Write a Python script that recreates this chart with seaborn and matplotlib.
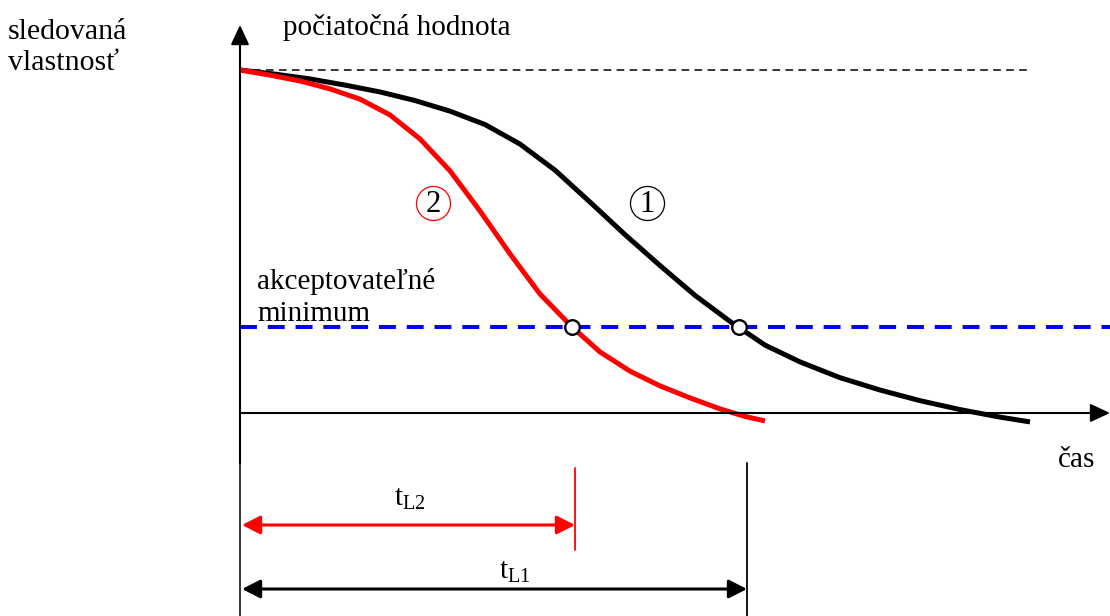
import matplotlib
matplotlib.use("Agg")
import matplotlib.pyplot as plt
import numpy as np
import pandas as pd
import seaborn as sns

sns.set_theme(style="white")
plt.rcParams['font.family'] = ['Liberation Serif', 'DejaVu Serif']
plt.rcParams['text.color'] = 'black'
plt.rcParams['mathtext.fontset'] = 'custom'
plt.rcParams['mathtext.rm'] = 'Liberation Serif'
plt.rcParams['mathtext.it'] = 'Liberation Serif:italic'

# curve 1 (black)
t_curve1 = [0.0, 0.7, 1.4, 2.1, 2.8, 3.5, 4.2, 4.9, 5.6, 6.3, 7.0, 7.7, 8.4, 9.1, 9.8,
            10.5, 11.2, 12.0, 12.8, 13.6, 14.4, 15.2, 15.8]
v_curve1 = [100.0, 98.8, 97.4, 95.6, 93.6, 91.1, 88.0, 84.1, 78.4, 70.8, 61.5, 52.0, 43.0, 34.3, 26.7,
            19.8, 14.9, 10.3, 6.7, 3.6, 1.0, -1.2, -2.6]

# curve 2 (red)
t_curve2 = [0.0, 0.6, 1.2, 1.8, 2.4, 3.0, 3.6, 4.2, 4.8, 5.4, 6.0, 6.64, 7.2, 7.8, 8.4,
            9.0, 9.6, 10.1, 10.5]
v_curve2 = [100.0, 98.5, 96.8, 94.5, 91.5, 86.9, 79.9, 70.6, 58.9, 46.4, 34.7, 25.1, 17.8, 12.2, 7.9,
            4.4, 1.2, -1.0, -2.3]

initial_value = 100.0
acceptable_min = 25.0
t_cross = [6.64, 9.97]      # where the curves hit the minimum
t_L = [6.7, 10.14]          # t_L2, t_L1

# px of the picture -> data units
PX_T = 50.0
PX_V = 3.43
def tx(px):
    return (px - 240) / PX_T
def vy(py):
    return (413 - py) / PX_V

fig = plt.figure(figsize=(11.1, 6.16), dpi=100)
ax = fig.add_axes([0, 0, 1, 1])
ax.set_xlim(tx(0), tx(1110))
ax.set_ylim(vy(616), vy(0))
ax.axis('off')

df1 = pd.DataFrame({'t': t_curve1, 'v': v_curve1})
df2 = pd.DataFrame({'t': t_curve2, 'v': v_curve2})

# reference lines
ax.plot([0, tx(1030)], [initial_value, initial_value], color='black', lw=1.1,
        dashes=(5, 3.5), zorder=1)
ax.plot([0, tx(1110)], [acceptable_min, acceptable_min], color='#0000ff', lw=2.9,
        dashes=(4.2, 2.7), zorder=2)

sns.lineplot(data=df1, x='t', y='v', ax=ax, color='black', lw=3.6, estimator=None,
             sort=False, zorder=3)
sns.lineplot(data=df2, x='t', y='v', ax=ax, color='#ff0000', lw=3.6, estimator=None,
             sort=False, zorder=3)
for l in ax.lines:
    l.set_solid_joinstyle('round')
    l.set_solid_capstyle('butt')

ax.plot(t_cross, [acceptable_min] * 2, 'o', ms=10.5, mfc='white', mec='black', mew=1.7, zorder=5)

# axes with arrows
ax.annotate('', xy=(0, vy(25)), xytext=(0, vy(463)),
            arrowprops=dict(arrowstyle='-|>,head_length=0.6,head_width=0.28', mutation_scale=20,
                            lw=1.5, color='black', shrinkA=0, shrinkB=0))
ax.annotate('', xy=(tx(1110), 0), xytext=(0, 0),
            arrowprops=dict(arrowstyle='-|>,head_length=0.6,head_width=0.28', mutation_scale=20,
                            lw=1.5, color='black', shrinkA=0, shrinkB=0))

# extension lines under the axis
ax.plot([0, 0], [vy(462), vy(616)], color='black', lw=1.1)
ax.plot([t_L[1], t_L[1]], [vy(463), vy(616)], color='black', lw=1.3)
ax.plot([t_L[0], t_L[0]], [vy(468), vy(550)], color='#ff0000', lw=1.3)

# lifetime arrows
ax.annotate('', xy=(t_L[0], vy(525)), xytext=(tx(242), vy(525)),
            arrowprops=dict(arrowstyle='<|-|>,head_length=0.55,head_width=0.28', mutation_scale=20,
                            lw=2.2, color='#ff0000', shrinkA=0, shrinkB=0))
ax.annotate('', xy=(t_L[1], vy(589)), xytext=(tx(242), vy(589)),
            arrowprops=dict(arrowstyle='<|-|>,head_length=0.55,head_width=0.28', mutation_scale=20,
                            lw=2.2, color='black', shrinkA=0, shrinkB=0))

fs = 21
ax.text(tx(410), vy(506), r'$\mathrm{t}_{\mathrm{L2}}$', fontsize=fs, ha='center', va='baseline')
ax.text(tx(515), vy(579), r'$\mathrm{t}_{\mathrm{L1}}$', fontsize=fs, ha='center', va='baseline')

# labels
ax.text(tx(8), vy(39), 'sledovaná', fontsize=fs + 0.5, ha='left', va='baseline')
ax.text(tx(8), vy(70), 'vlastnosť', fontsize=fs + 0.5, ha='left', va='baseline')
ax.text(tx(283), vy(35), 'počiatočná hodnota', fontsize=fs, ha='left', va='baseline')
ax.text(tx(257), vy(289), 'akceptovateľné', fontsize=fs, ha='left', va='baseline')
ax.text(tx(257), vy(321), 'minimum', fontsize=fs, ha='left', va='baseline')
ax.text(tx(1058), vy(467), 'čas', fontsize=fs, ha='left', va='baseline')

# circled curve numbers
for cx, num, col in [(433, '2', '#ff0000'), (647, '1', 'black')]:
    ax.plot([tx(cx)], [vy(203)], 'o', ms=24.5, mfc='none', mec=col, mew=0.9, zorder=4)
    ax.text(tx(cx), vy(203 + 9.5), num, fontsize=22, ha='center', va='baseline', color='black')

fig.savefig('out.png', dpi=100)
